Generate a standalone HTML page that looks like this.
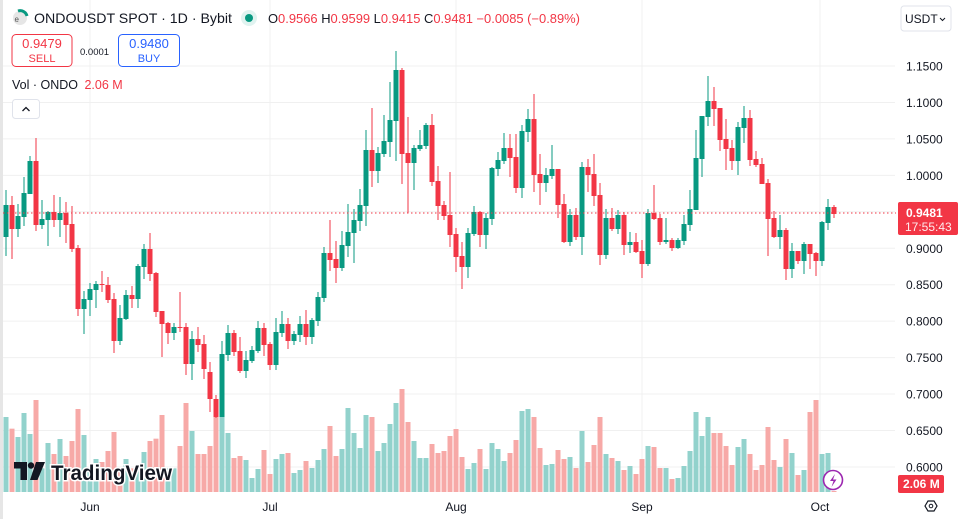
<!DOCTYPE html>
<html><head><meta charset="utf-8"><style>
html,body{margin:0;padding:0;background:#fff;width:960px;height:519px;overflow:hidden;font-family:"Liberation Sans",sans-serif;}
svg{position:absolute;left:0;top:0}
.t{font-family:"Liberation Sans",sans-serif}
</style></head><body>
<svg id="s" width="960" height="519" xmlns="http://www.w3.org/2000/svg"></svg>
<script>
const s=document.getElementById('s');
let h='';
const Y=p=>66+(1.15-p)/0.05*36.45;
h+='<rect x="0" y="0" width="3" height="519" fill="#e6e6e6"/>';
for(let i=0;i<=11;i++){const p=1.15-i*0.05;const y=Y(p);h+=`<line x1="3" x2="895" y1="${y}" y2="${y}" stroke="#f0f0f0"/>`;}
[90,270,456,642,820].forEach(x=>h+=`<line x1="${x}" x2="${x}" y1="0" y2="492" stroke="#f0f0f0"/>`);
const vol=[[6,96,1],[12,131,0],[18,156,1],[24,84,1],[30,147,1],[36,45,0],[42,250,1],[48,174,1],[54,207,0],[60,162,1],[66,213,0],[72,168,0],[78,72,0],[84,150,1],[90,260,1],[96,222,1],[102,231,0],[108,198,0],[114,141,0],[120,250,0],[126,222,1],[132,250,0],[138,250,1],[144,201,1],[150,168,0],[156,161,0],[162,90,0],[168,250,1],[174,250,1],[180,183,0],[186,54,0],[192,138,1],[198,207,0],[204,207,0],[210,183,0],[216,93,0],[222,93,1],[228,144,1],[234,219,0],[240,213,0],[246,225,1],[252,279,1],[258,252,1],[264,195,0],[270,267,0],[276,222,1],[282,207,1],
[288,204,0],[294,264,1],[300,255,1],[306,228,0],[312,249,1],[318,225,1],[324,192,1],[330,123,0],[336,213,0],[342,192,1],[348,69,1],[354,144,1],[360,189,1],[366,90,1],[372,96,0],[378,198,1],[384,174,1],[390,117,1],[396,54,1],[402,12,0],[408,111,0],[414,168,1],[420,219,1],[426,219,1],[432,177,0],[438,204,0],[444,198,0],[450,153,0],[456,132,0],[462,216,0],[468,252,1],[474,234,1],[480,192,0],[486,252,1],[492,174,1],[498,192,1],[504,228,1],[510,204,0],[516,165,0],[522,78,1],[528,72,1],[534,96,0],[540,189,0],[546,240,1],[552,237,1],[558,195,0],[564,222,0],[570,216,1],
[576,249,0],[582,138,1],[588,231,0],[594,180,0],[600,96,0],[606,207,1],[612,219,0],[618,228,1],[624,255,0],[630,243,1],[636,267,0],[642,222,0],[648,183,1],[654,186,0],[660,249,0],[666,249,1],[672,282,0],[678,279,1],[684,243,1],[690,198,1],[696,81,1],[702,153,1],[708,96,1],[714,144,0],[720,144,0],[726,183,0],[732,240,0],[738,186,1],[744,162,1],[750,207,0],[756,255,0],[762,240,0],[768,126,0],[774,225,0],[780,246,1],[786,162,0],[792,204,1],[798,270,0],[804,255,1],[810,81,0],[816,45,0],[822,207,1],[828,204,1],[834,318,0]];
vol.forEach(v=>{const t=385+v[1]/3;h+=`<rect x="${v[0]-2.5}" y="${t}" width="5" height="${492-t}" fill="${v[2]?'#92d2cc':'#f7a9a7'}"/>`;});
const c=[[6,237,205,190,256],[12,205,229,196,259],[18,229,216,204,237],[24,217,193,177,226],[30,194,161,156,194],[36,161,225,138,231],[42,225,219,200,229],[48,220,212,211,246],[54,212,220,195,227],[60,220,213,197,237],[66,213,225,202,243],[72,224,249,206,252],[78,248,309,245,316],[84,309,299,291,334],[90,300,289,283,316],[96,290,284,281,308],[102,284,285,271,292],[108,285,300,277,303],[114,299,341,293,353],[120,341,318,305,345],[126,319,295,290,320],[132,295,299,286,308],[138,299,266,264,308],[144,267,249,244,279],[150,249,274,233,281],[156,273,312,272,317],[162,311,324,311,357],[168,323,333,322,344],[174,333,327,323,340],[180,327,328,292,332],[186,327,364,323,375],[192,364,339,331,380],[198,339,345,327,352],[204,344,369,335,379],[210,372,399,362,412],[216,399,417,395,418],[222,417,354,341,417],
[228,355,333,325,361],[234,333,352,330,356],[240,351,371,337,373],[246,371,360,351,378],[252,361,350,346,363],[258,351,328,321,353],[264,328,345,323,356],[270,344,365,342,370],[276,365,332,318,370],[282,333,324,311,337],[288,324,341,318,349],[294,341,334,331,345],[300,335,324,316,342],[306,324,337,310,345],[312,337,320,318,344],[318,321,297,292,326],[324,298,253,247,302],[330,253,260,220,271],[336,259,268,241,283],[342,268,245,231,271],[348,246,232,204,257],[354,233,220,209,263],[360,221,205,189,231],[366,206,150,130,226],[372,150,171,108,187],[378,171,153,147,183],[384,154,141,115,157],[390,142,120,82,157],[396,121,70,51,161],[402,70,154,68,184],[408,153,163,117,213],[414,163,148,145,190],[420,149,145,130,151],[426,146,125,123,149],
[432,125,182,114,186],[438,181,206,166,220],[444,205,216,201,220],[450,215,235,172,247],[456,234,257,228,272],[462,256,267,242,289],[468,267,233,228,278],[474,234,212,206,236],[480,212,235,211,247],[486,235,218,213,249],[492,219,168,167,225],[498,169,160,152,176],[504,161,148,133,164],[510,148,158,134,177],[516,157,188,134,193],[522,188,131,125,198],[528,132,119,109,142],[534,119,175,94,192],[540,174,183,154,205],[546,183,175,168,192],[552,176,169,145,179],[558,169,205,169,218],[564,204,242,194,243],[570,242,215,209,246],[576,215,237,208,240],[582,237,167,162,255],[588,167,175,159,192],[594,174,196,154,206],[600,195,255,183,265],[606,255,218,209,259],[612,218,229,208,231],[618,229,215,210,234],[624,215,245,212,255],[630,245,242,232,253],
[636,242,252,233,253],[642,251,264,240,278],[648,264,213,209,266],[654,213,219,185,220],[660,218,242,214,245],[666,242,240,218,244],[672,240,248,238,251],[678,248,240,238,249],[684,241,224,215,245],[690,225,209,190,231],[696,210,158,130,210],[702,159,116,116,177],[708,117,101,76,126],[714,101,109,87,126],[720,108,140,108,151],[726,139,149,119,170],[732,148,161,140,170],[738,161,127,122,175],[744,128,118,106,143],[750,118,160,110,166],[756,159,165,151,167],[762,164,184,158,184],[768,183,219,179,256],[774,218,237,211,238],[780,237,230,215,249],[786,230,269,228,280],[792,269,251,243,278],[798,251,261,251,264],[804,261,244,242,274],[810,244,254,244,269],[816,253,261,252,276],[822,261,222,221,266],[828,223,207,199,230],[834,207,214,205,218]];
c.forEach(k=>{const[x,o,cl,hi,lo]=k;const col=(cl<o)?'#089981':'#f23645';const top=Math.min(o,cl),bh=Math.max(1,Math.abs(o-cl));
h+=`<line x1="${x}" x2="${x}" y1="${hi}" y2="${lo}" stroke="${col}" stroke-width="1"/><rect x="${x-2.5}" y="${top}" width="5" height="${bh}" fill="${col}"/>`;});
h+=`<line x1="3" x2="896" y1="213" y2="213" stroke="#f23645" stroke-dasharray="1.5,2.5"/>`;
for(let i=0;i<=11;i++){const p=1.15-i*0.05;if(i==4)continue;const y=Y(p);h+=`<text x="906" y="${y+4.5}" font-size="12" fill="#131722" class="t">${p.toFixed(4)}</text>`;}
h+=`<rect x="898" y="202" width="60" height="33" rx="2" fill="#f23645"/><text x="906" y="217" font-size="12" font-weight="bold" fill="#fff" class="t">0.9481</text><text x="905" y="231" font-size="12" fill="#fff" fill-opacity="0.9" class="t">17:55:43</text>`;
h+=`<rect x="898" y="475" width="46" height="18" rx="2" fill="#f23645"/><text x="903" y="488" font-size="12" font-weight="bold" fill="#fff" class="t">2.06 M</text>`;
h+=`<rect x="901" y="6" width="50" height="25" rx="3" fill="#fff" stroke="#e0e3eb"/><text x="905" y="23" font-size="12" fill="#131722" class="t">USDT</text><path d="M940 18l2.5 2.5 2.5-2.5" stroke="#131722" fill="none"/>`;
[[90,'Jun'],[270,'Jul'],[456,'Aug'],[642,'Sep'],[820,'Oct']].forEach(m=>h+=`<text x="${m[0]}" y="511" font-size="12" text-anchor="middle" fill="#131722" class="t">${m[1]}</text>`);
h+=`<path d="M925 506l3-5h6l3 5-3 5h-6z" fill="none" stroke="#131722" stroke-width="1.2"/><circle cx="931" cy="506" r="1.8" fill="none" stroke="#131722"/>`;
h+=`<circle cx="833" cy="480" r="9.5" fill="#fff" stroke="#9c27b0" stroke-width="1.6"/><path d="M835 474l-5 7h3.5l-2 6 5-7.5h-3.5z" fill="#9c27b0"/>`;
h+=`<circle cx="20" cy="18" r="7" fill="#e6e6e6"/><path d="M18 11a7 7 0 0 1 9 5" stroke="#089981" stroke-width="3" fill="none"/><text x="14.5" y="22" font-size="8" fill="#555" class="t">e</text>`;
h+=`<text x="34" y="23" font-size="14" fill="#131722" class="t" textLength="198" lengthAdjust="spacingAndGlyphs">ONDOUSDT SPOT · 1D · Bybit</text>`;
h+=`<circle cx="249" cy="18" r="8" fill="#e0f3f0"/><circle cx="249" cy="18" r="4" fill="#089981"/>`;
h+=`<text x="268" y="23" font-size="12.5" class="t" fill="#131722" textLength="312" lengthAdjust="spacingAndGlyphs">O<tspan fill="#f23645">0.9566</tspan> H<tspan fill="#f23645">0.9599</tspan> L<tspan fill="#f23645">0.9415</tspan> C<tspan fill="#f23645">0.9481</tspan> <tspan fill="#f23645">−0.0085 (−0.89%)</tspan></text>`;
h+=`<rect x="12" y="34.5" width="60" height="32" rx="4" fill="#fff" stroke="#f23645"/><text x="42" y="48" font-size="13" text-anchor="middle" fill="#f23645" class="t">0.9479</text><text x="42" y="62" font-size="11" text-anchor="middle" fill="#f23645" class="t">SELL</text>`;
h+=`<text x="80" y="55" font-size="9.5" fill="#131722" class="t">0.0001</text>`;
h+=`<rect x="118.5" y="34.5" width="61" height="32" rx="4" fill="#fff" stroke="#2962ff"/><text x="149" y="48" font-size="13" text-anchor="middle" fill="#2962ff" class="t">0.9480</text><text x="149" y="62" font-size="11" text-anchor="middle" fill="#2962ff" class="t">BUY</text>`;
h+=`<text x="12" y="89" font-size="12.5" fill="#131722" class="t">Vol · ONDO <tspan dx="3" fill="#f23645">2.06 M</tspan></text>`;
h+=`<rect x="12.5" y="99.5" width="27" height="19" rx="3" fill="#fff" stroke="#e0e3eb"/><path d="M22.5 111l3.5-3.5 3.5 3.5" stroke="#131722" stroke-width="1.3" fill="none"/>`;
h+=`<g><path d="M14 462h13v18h-6.5v-11.5h-6.5z" fill="#131722"/><circle cx="31" cy="465.5" r="3.2" fill="#131722"/><path d="M36 462h9l-7.5 18h-7.5z" fill="#131722"/><text x="51" y="480" font-size="21" font-weight="bold" fill="#131722" stroke="#fff" stroke-width="3" paint-order="stroke" class="t" textLength="121" lengthAdjust="spacingAndGlyphs">TradingView</text></g>`;
s.innerHTML=h;
</script>
</body></html>
